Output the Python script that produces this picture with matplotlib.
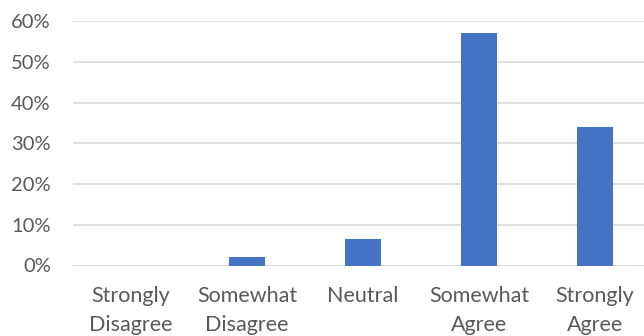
import matplotlib
matplotlib.use("Agg")
import matplotlib.pyplot as plt
from matplotlib.ticker import PercentFormatter

categories = ["Strongly\nDisagree", "Somewhat\nDisagree", "Neutral", "Somewhat\nAgree", "Strongly\nAgree"]
values = [0.0, 2.2, 6.6, 57.1, 34.1]
yticks = [0, 10, 20, 30, 40, 50, 60]

plt.rcParams['font.family'] = ['Lato', 'DejaVu Sans']

fig = plt.figure(figsize=(6.44, 3.36), dpi=100)
ax = fig.add_axes([73/644, (336-265.5)/336, 580/644, 244.5/336])

x = list(range(len(categories)))
ax.bar(x, values, width=0.31, color="#4472C4", zorder=3)

ax.set_xlim(-0.5, len(categories) - 0.5)
ax.set_ylim(0, 60)
ax.set_yticks(yticks)
ax.yaxis.set_major_formatter(PercentFormatter(decimals=0))
ax.grid(axis='y', color='#d9d9d9', linewidth=1.2, zorder=0)
ax.set_xticks(x)
ax.set_xticklabels(categories, linespacing=1.55, fontsize=15.5)

for s in ax.spines.values():
    s.set_visible(False)
ax.tick_params(axis='both', length=0, labelcolor='#595959')
ax.tick_params(axis='y', pad=16, labelsize=14.5)
ax.tick_params(axis='x', pad=15)

fig.savefig("out.png", dpi=100)
